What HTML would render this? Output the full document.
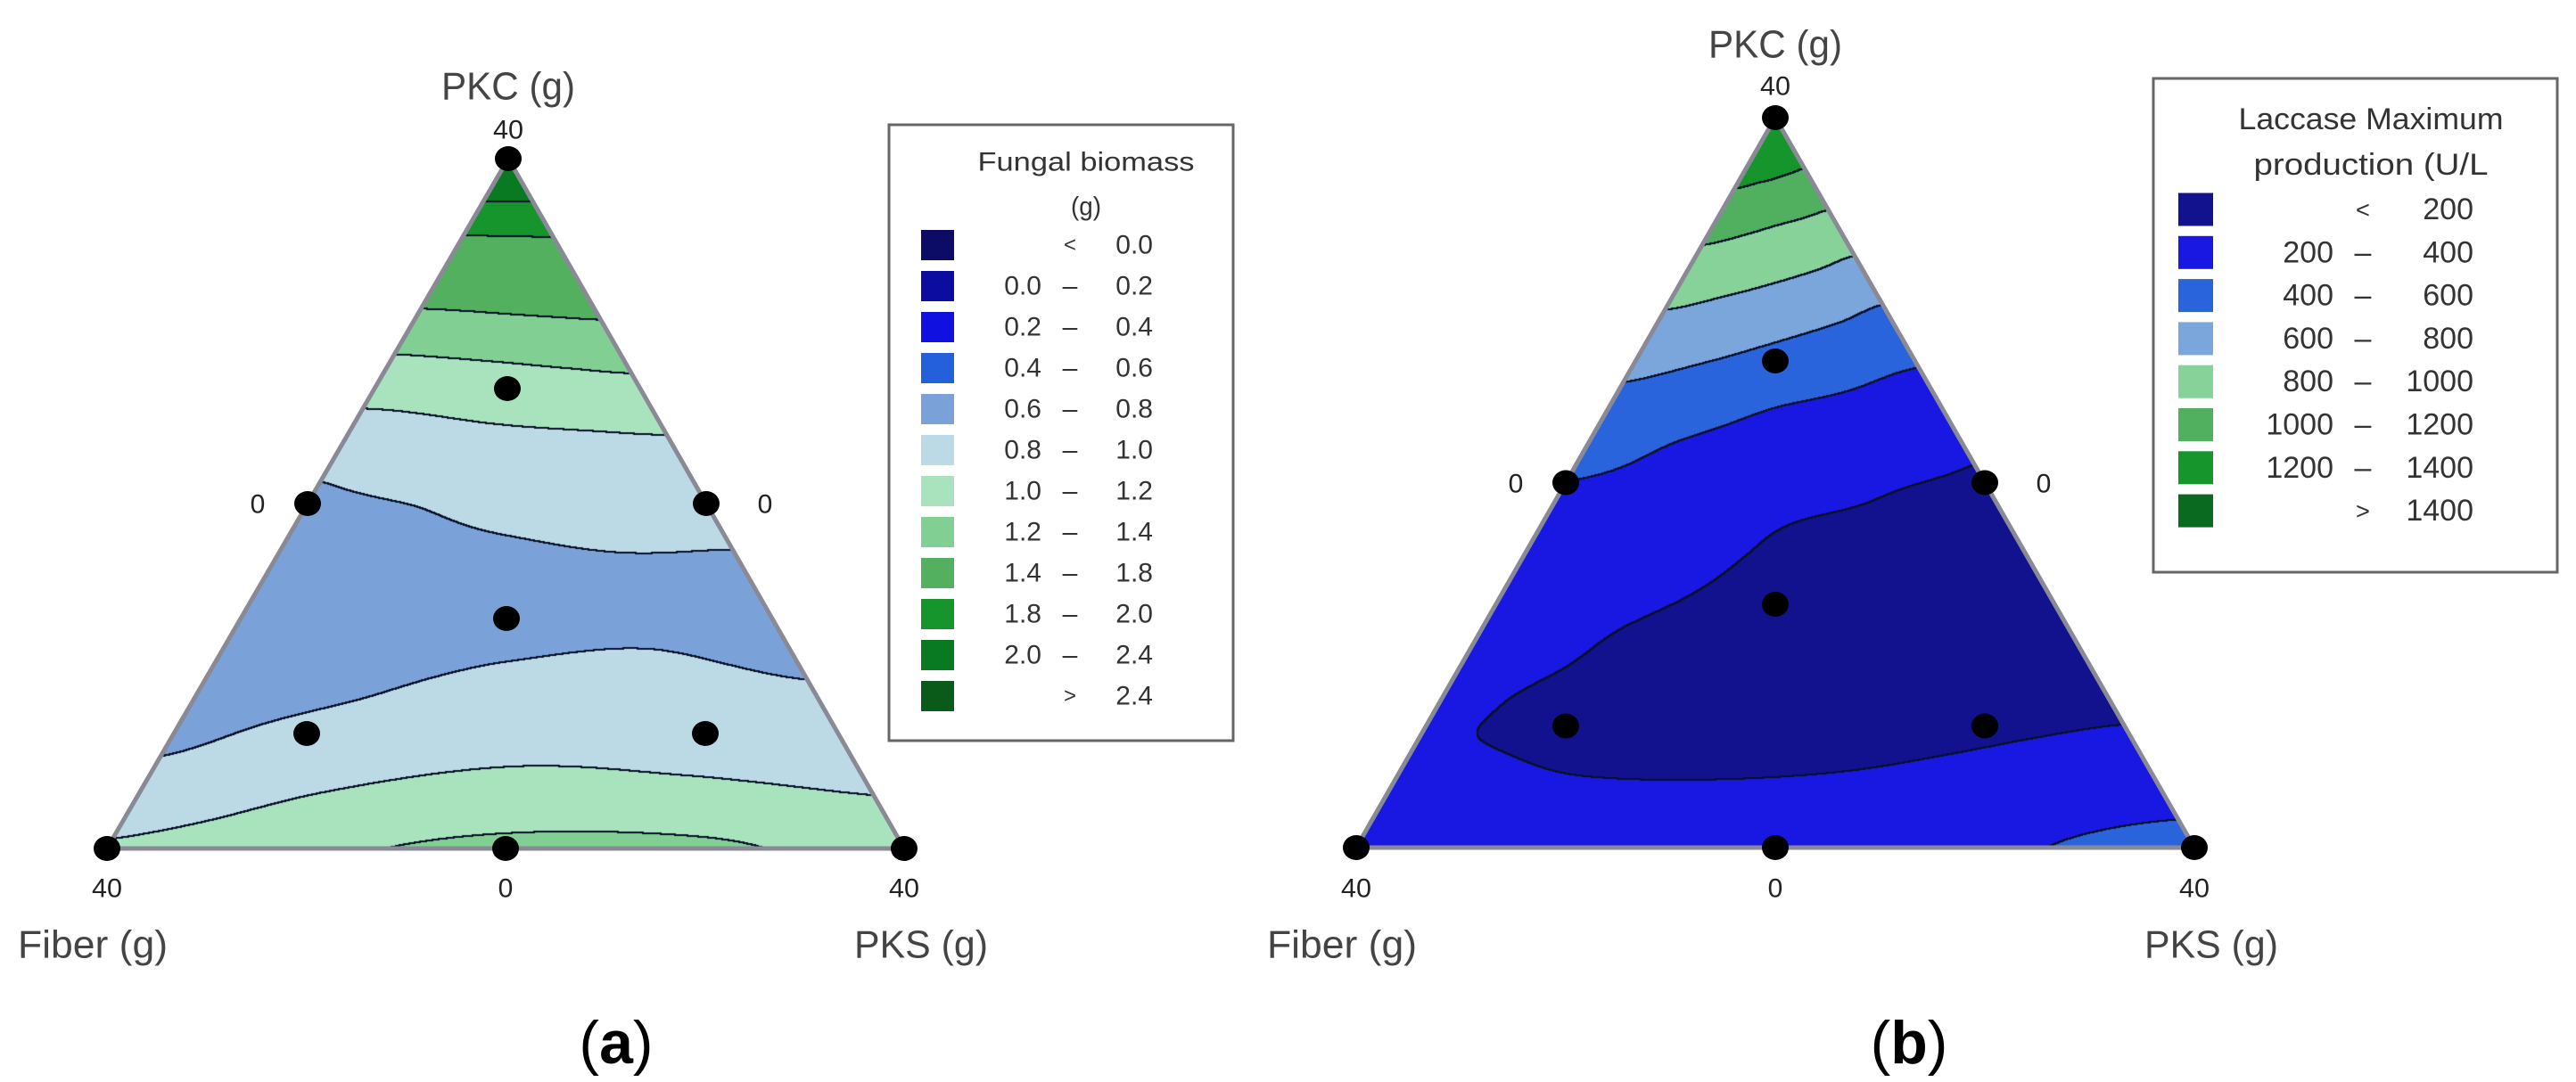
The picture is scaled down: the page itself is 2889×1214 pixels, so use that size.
<!DOCTYPE html>
<html><head><meta charset="utf-8"><style>
html,body{margin:0;padding:0;background:#fff;}
#wrap{position:relative;width:2889px;height:1214px;overflow:hidden;}
canvas,svg{position:absolute;left:0;top:0;}
text{font-family:"Liberation Sans",sans-serif;}
</style></head><body>
<div id="wrap">
<canvas id="cv" width="2889" height="1214"></canvas>
<svg id="sv" width="2889" height="1214" xmlns="http://www.w3.org/2000/svg"></svg>
</div>
<script>
// ---- DATA: panel (a) fungal biomass, grid rows h = 0..1 step 0.05 (PKC fraction), columns t = PKS share 0,.25,.5,.75,1
const biomassT0  =[1.02,0.932,0.844,0.785,0.756,0.727,0.698,0.691,0.72,0.749,0.777,0.82,0.92,1.026,1.154,1.296,1.457,1.648,1.84,2.05,2.3];
const biomassT25 =[1.16,1.06,0.969,0.892,0.815,0.767,0.726,0.684,0.717,0.759,0.8,0.877,0.954,1.041,1.169,1.307,1.467,1.654,1.843,2.05,2.3];
const biomassT50 =[1.24,1.137,1.032,0.955,0.89,0.826,0.767,0.711,0.742,0.795,0.855,0.915,0.976,1.071,1.188,1.323,1.48,1.662,1.846,2.05,2.3];
const biomassT75 =[1.23,1.122,1.011,0.951,0.897,0.843,0.789,0.731,0.767,0.824,0.879,0.934,0.989,1.092,1.208,1.338,1.491,1.667,1.846,2.05,2.3];
const biomassT100=[1.12,1.04,0.971,0.912,0.853,0.795,0.742,0.711,0.763,0.818,0.879,0.939,1.0,1.111,1.225,1.35,1.503,1.674,1.849,2.05,2.3];
const biomassLevels=[0,0.2,0.4,0.6,0.8,1.0,1.2,1.4,1.8,2.0,2.4];
const biomassColors=["#0c0c66","#0c0ca0","#1010e0","#2460dc","#7aa2d8","#bcd9e6","#a9e3bd","#82cf94","#52b05e","#15952c","#0a7a22","#0a5a1a"];
const biomassLegendLow=["","0.0","0.2","0.4","0.6","0.8","1.0","1.2","1.4","1.8","2.0",""];
const biomassLegendHigh=["0.0","0.2","0.4","0.6","0.8","1.0","1.2","1.4","1.8","2.0","2.4","2.4"];
// ---- DATA: panel (b) laccase
const laccaseT0  =[300,270.3,240.6,210.9,227.6,255.9,284.1,312.4,340.6,368.9,397.2,466.6,540.7,620.4,722.4,826.7,937.8,1058.7,1192,1287.2,1380];
const laccaseT25 =[320,258.1,198.5,174.3,150,172.7,195.5,231.1,270,309,347.9,386.8,466.7,567.7,675.5,786.7,904.8,1029,1173.9,1281.1,1380];
const laccaseT50 =[340,266.3,197.4,171.6,145.8,120,141,162.1,183.2,212.1,272.7,333.3,393.9,502.3,617.1,739,864.1,992.3,1154.1,1275.3,1380];
const laccaseT75 =[370,299.2,228.3,186.7,164.4,142.2,120,141,162.1,183.2,214,283.9,353.8,439.5,555.8,683.8,819.2,956.2,1125.9,1267.5,1380];
const laccaseT100=[480,377.4,296.8,216.1,185.3,166.8,148.4,130,148.7,167.4,186.2,221.1,302.4,383.7,494.1,615.2,766.7,916.4,1093.6,1260,1380];
const laccaseLevels=[200,400,600,800,1000,1200,1400];
const laccaseColors=["#12128e","#1818e2","#2a64dc","#7aa6dc","#86d298","#50b060","#15952c","#0a6a20"];
const laccaseLegendLow=["","200","400","600","800","1000","1200",""];
const laccaseLegendHigh=["200","400","600","800","1000","1200","1400","1400"];
// design points (PKC, Fiber, PKS fractions)
const designPKC  =[1,0,0,0.5,0.5,0,1/3,2/3,1/6,1/6];
const designFiber=[0,1,0,0.5,0,0.5,1/3,1/6,2/3,1/6];
const designPKS  =[0,0,1,0,0.5,0.5,1/3,1/6,1/6,2/3];

const panels=[
 {id:"a",A:[570,178],L:[120,952],R:[1014,952],cols:[biomassT0,biomassT25,biomassT50,biomassT75,biomassT100],levels:biomassLevels,colors:biomassColors,
  lx0:997,ly0:140,lx1:1383,ly1:831,title:["Fungal biomass","(g)"],titleX:1218,titleY:[182,232],titleW:[243,34],row0:275,step:46,swX:1033,swW:37,swH:34,lowR:1168,dashX:1200,highR:1293,fs:30,
  low:biomassLegendLow,high:biomassLegendHigh,pkcY:97,topTickY:146,sideY:566,cap:"a",capX:691},
 {id:"b",A:[1991,132],L:[1521,951],R:[2461,951],cols:[laccaseT0,laccaseT25,laccaseT50,laccaseT75,laccaseT100],levels:laccaseLevels,colors:laccaseColors,
  lx0:2415,ly0:88,lx1:2868,ly1:642,title:["Laccase Maximum","production (U/L"],titleX:2659,titleY:[134,185],titleW:[297,263],row0:235,step:48.3,swX:2443,swW:39,swH:37,lowR:2617,dashX:2650,highR:2774,fs:34,
  low:laccaseLegendLow,high:laccaseLegendHigh,pkcY:50,topTickY:97,sideY:543,cap:"b",capX:2141}
];
function hex(c){return [parseInt(c.substr(1,2),16),parseInt(c.substr(3,2),16),parseInt(c.substr(5,2),16)];}
function cr(p0,p1,p2,p3,t){return 0.5*((2*p1)+(-p0+p2)*t+(2*p0-5*p1+4*p2-p3)*t*t+(-p0+3*p1-3*p2+p3)*t*t*t);}
function valueAt(p,h,t){
  const r=Math.min(19.999,Math.max(0,h*20)),c=Math.min(3.999,Math.max(0,t*4));
  const ri=Math.floor(r),ci=Math.floor(c),fr=r-ri,fc=c-ci;
  const colv=[];
  for(let k=-1;k<=2;k++){
    const col=p.cols[Math.min(4,Math.max(0,ci+k))];
    const g=i=>col[Math.min(20,Math.max(0,i))];
    colv.push(cr(g(ri-1),g(ri),g(ri+1),g(ri+2),fr));
  }
  return cr(colv[0],colv[1],colv[2],colv[3],fc);
}
function band(p,v){let k=0;for(const l of p.levels){if(v>l)k++;}return k;}
function toXY(p,pkc,fib,pks){return [p.A[0]*pkc+p.L[0]*fib+p.R[0]*pks, p.A[1]*pkc+p.L[1]*fib+p.R[1]*pks];}
const cv=document.getElementById('cv'),ctx=cv.getContext('2d');
const img=ctx.createImageData(2889,1214),D=img.data;
for(let i=0;i<D.length;i+=4){D[i]=D[i+1]=D[i+2]=255;D[i+3]=255;}
for(const p of panels){
  const cols=p.colors.map(hex);
  const x0=p.L[0],x1=p.R[0],y0=p.A[1],y1=p.L[1];
  const W=x1-x0+1,Hh=y1-y0+1;
  const bd=new Int16Array(W*Hh).fill(-1);
  for(let y=y0;y<=y1;y++){
    const h=(y1-y)/(y1-y0);
    const le=p.L[0]+(p.A[0]-p.L[0])*h, re=p.R[0]+(p.A[0]-p.R[0])*h;
    for(let x=Math.ceil(le);x<=re;x++){
      const t=(re-le)>0.5?(x-le)/(re-le):0.5;
      bd[(y-y0)*W+(x-x0)]=band(p,valueAt(p,h,t));
    }
  }
  const nb=[[1,0],[-1,0],[0,1],[0,-1],[1,1],[-1,-1],[1,-1],[-1,1]];
  for(let y=0;y<Hh;y++)for(let x=0;x<W;x++){
    const b=bd[y*W+x]; if(b<0)continue;
    let edge=false;
    for(const [dx,dy] of nb){const xx=x+dx,yy=y+dy;if(xx<0||yy<0||xx>=W||yy>=Hh)continue;const o=bd[yy*W+xx];if(o>=0&&o!==b){edge=true;break;}}
    const i=((y+y0)*2889+(x+x0))*4;
    const c=edge?[8,16,40]:cols[b];
    D[i]=c[0];D[i+1]=c[1];D[i+2]=c[2];
  }
}
ctx.putImageData(img,0,0);

const NS="http://www.w3.org/2000/svg",sv=document.getElementById('sv');
function mk(tag,attrs,parent){const e=document.createElementNS(NS,tag);for(const k in attrs)e.setAttribute(k,attrs[k]);(parent||sv).appendChild(e);return e;}
function txt(s,x,y,size,anchor,fill,parent,len){const e=mk('text',{x:x,y:y,'font-size':size,'text-anchor':anchor,fill:fill,'dominant-baseline':'central'},parent);if(len){e.setAttribute('textLength',len);e.setAttribute('lengthAdjust','spacingAndGlyphs');}e.textContent=s;return e;}
for(const p of panels){
  const g=mk('g',{});
  
  
  const tri=mk('polygon',{points:p.A.join(',')+' '+p.L.join(',')+' '+p.R.join(','),fill:'none',stroke:'#8a8a96','stroke-width':5,'stroke-linejoin':'round'},g);
  
  
  for(let i=0;i<designPKC.length;i++){
    const q=toXY(p,designPKC[i],designFiber[i],designPKS[i]);
    const d=mk('ellipse',{cx:q[0],cy:q[1],rx:15,ry:14,fill:'#000'},g);
    
    
  }
  const mid=(p.L[0]+p.R[0])/2;
  const t1=txt('PKC (g)',p.A[0],p.pkcY,44,'middle','#444',g,150);
  
  
  const t2=txt('40',p.A[0],p.topTickY,30,'middle','#222',g,34);
  
  
  const ml=toXY(p,0.5,0.5,0),mr=toXY(p,0.5,0,0.5);
  const t3=txt('0',ml[0]-56,p.sideY,30,'middle','#222',g);
  
  
  const t4=txt('0',mr[0]+66,p.sideY,30,'middle','#222',g);
  
  
  const t5=txt('40',p.L[0],997,30,'middle','#222',g,34);
  
  
  const t6=txt('0',mid,997,30,'middle','#222',g);
  
  
  const t7=txt('40',p.R[0],997,30,'middle','#222',g,34);
  
  
  const t8=txt('Fiber (g)',p.L[0]-100,1060,44,'start','#444',g,168);
  
  
  const t9=txt('PKS (g)',p.R[0]-56,1060,44,'start','#444',g,150);
  
  
  const cap=mk('text',{x:p.capX,y:1170,'font-size':68,'text-anchor':'middle','dominant-baseline':'central','font-family':'Liberation Serif, serif',fill:'#000'},g);
  cap.innerHTML='(<tspan font-weight="bold">'+p.cap+'</tspan>)';
  
  
  // legend
  const lg=mk('g',{});
  
  
  const box=mk('rect',{x:p.lx0,y:p.ly0,width:p.lx1-p.lx0,height:p.ly1-p.ly0,fill:'#fff',stroke:'#666','stroke-width':3},lg);
  
  
  for(let k=0;k<2;k++){
    const tt=txt(p.title[k],p.titleX,p.titleY[k],p.fs,'middle','#333',lg,p.titleW[k]);
    
    
  }
  for(let k=0;k<p.colors.length;k++){
    const y=p.row0+k*p.step;
    const sw=mk('rect',{x:p.swX,y:y-p.swH/2,width:p.swW,height:p.swH,fill:p.colors[k]},lg);
    
    
    if(p.low[k]!==""){
      const a=txt(p.low[k],p.lowR,y,p.fs,'end','#333',lg);
      
      
      const d=txt('–',p.dashX,y,p.fs,'middle','#333',lg);
      
      
    } else {
      const s=txt(k===0?'<':'>',p.dashX,y,p.fs*0.8,'middle','#333',lg);
      
      
    }
    const b=txt(p.high[k],p.highR,y,p.fs,'end','#333',lg);
    
    
  }
}
</script>
</body></html>
